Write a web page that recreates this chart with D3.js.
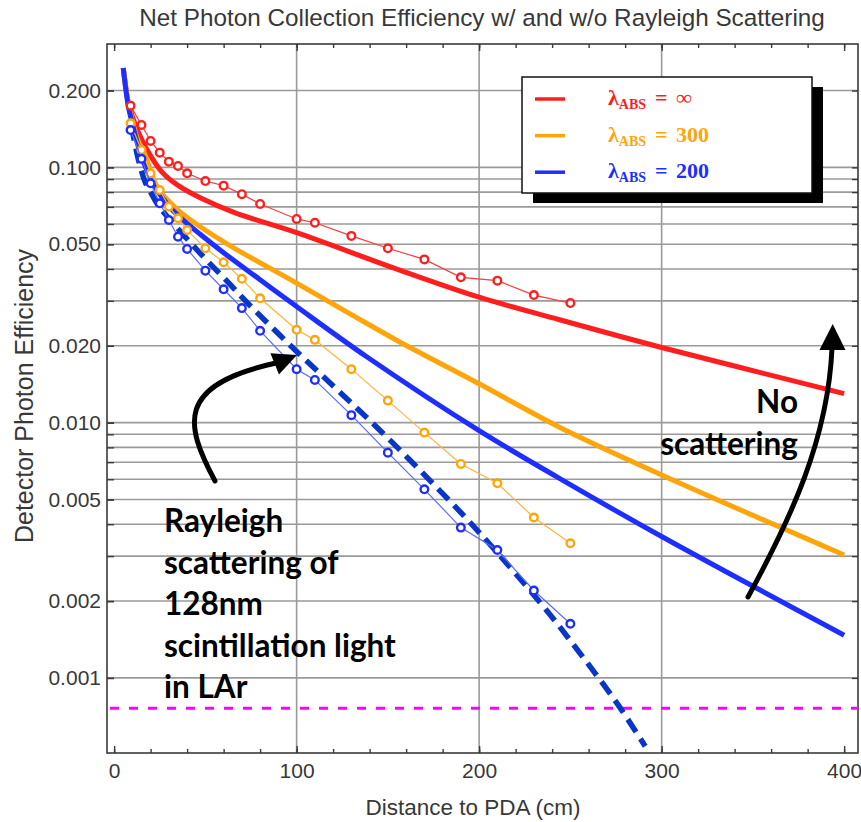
<!DOCTYPE html>
<html>
<head>
<meta charset="utf-8">
<script src="https://cdn.jsdelivr.net/npm/d3@7/dist/d3.min.js"></script>
<style>
  body { margin: 0; background: #fff; }
  svg { display: block; }
</style>
</head>
<body>
<svg id="chart" width="861" height="822"></svg>
<script>
// ---- Model curves (no scattering), one per absorption length ----
const distInf  = [5, 7.7, 10, 13.2, 18.7, 26, 35, 48, 66, 100, 156, 200, 244, 300, 400];
const effInf   = [0.245, 0.181, 0.158, 0.138, 0.115, 0.0963, 0.085, 0.0755, 0.0665, 0.0555, 0.0397, 0.031, 0.0253, 0.0197, 0.0130];

const dist300  = [5, 7.7, 10, 13, 16.9, 24, 35, 48, 66, 100, 130, 156, 200, 244, 300, 400];
const eff300   = [0.245, 0.178, 0.152, 0.128, 0.112, 0.0829, 0.068, 0.058, 0.0482, 0.0352, 0.0265, 0.0208, 0.0142, 0.0096, 0.00624, 0.00303];

const dist200  = [5, 7.7, 10, 13.2, 17, 22.4, 30, 38, 47, 60, 80, 100, 138, 200, 244, 300, 400];
const eff200   = [0.245, 0.175, 0.148, 0.121, 0.101, 0.084, 0.0705, 0.062, 0.0548, 0.0463, 0.0363, 0.0285, 0.0182, 0.0093, 0.00605, 0.00358, 0.00147];

// ---- Fit including Rayleigh scattering (dashed) ----
const distFit  = [9, 10, 13.2, 16.9, 20, 24.2, 31.5, 42.5, 50.7, 60, 74.4, 100, 125, 150, 176.7, 200, 233.3, 250, 275.3, 291];
const effFit   = [0.145, 0.138, 0.108, 0.088, 0.080, 0.071, 0.0614, 0.0501, 0.0433, 0.037, 0.0288, 0.0190, 0.0129, 0.0087, 0.00558, 0.00372, 0.00198, 0.0014, 0.0008, 0.00054];

// ---- Simulated points with scattering ----
const sampleDist = [9, 15, 20, 25, 30, 35, 40, 50, 60, 70, 80, 100, 110, 130, 150, 170, 190, 210, 230, 250];
const simInf = [0.1745, 0.1466, 0.1269, 0.1142, 0.1053, 0.1013, 0.0948, 0.0884, 0.0848, 0.0785, 0.0719, 0.0628, 0.0607, 0.0539, 0.0482, 0.0436, 0.0371, 0.0360, 0.0316, 0.0294];
const sim300 = [0.1489, 0.117, 0.0948, 0.0815, 0.0702, 0.0632, 0.0568, 0.0482, 0.0425, 0.0366, 0.0307, 0.0231, 0.0211, 0.0162, 0.0122, 0.00914, 0.00689, 0.00579, 0.00425, 0.00337];
const sim200 = [0.140, 0.108, 0.0866, 0.0723, 0.0622, 0.0535, 0.0479, 0.0394, 0.0333, 0.0281, 0.0229, 0.0162, 0.0147, 0.0107, 0.00763, 0.00548, 0.00388, 0.00317, 0.0022, 0.00163];

// Detection threshold level
const thresholdEff = 0.00076;

// Axis ticks
const xMajorTicks = [0, 100, 200, 300, 400];
const xMinorTicks = d3.range(0, 401, 20);
const xGridValues = [100, 200, 300];
const yLabelTicks = [0.2, 0.1, 0.05, 0.02, 0.01, 0.005, 0.002, 0.001];
const yTickLabels = ["0.200", "0.100", "0.050", "0.020", "0.010", "0.005", "0.002", "0.001"];
const yGridValues = [0.2, 0.1, 0.09, 0.08, 0.07, 0.06, 0.05, 0.04, 0.03, 0.02,
                     0.01, 0.009, 0.008, 0.007, 0.006, 0.005, 0.004, 0.003, 0.002, 0.001];

// Legend
const legendLabels = ["\u221E", "300", "200"];

const RED = "#ff1e1e", ORANGE = "#ffa50a", BLUE = "#1e2eff", DASHBLUE = "#0a36c8";
const seriesColors = [RED, ORANGE, BLUE];

// ---- Layout ----
const svg = d3.select("#chart");
const plot = { left: 107, right: 858, top: 44, bottom: 753 };

const x = d3.scaleLinear().domain([-3.9, 407.6]).range([plot.left, plot.right]);
const y = d3.scaleLog().domain([0.000508, 0.3043]).range([plot.bottom, plot.top]);

const gridColor = "#9a9a9a";
const axisColor = "#3a3a3a";
const textColor = "#383838";
const labelFont = "'Liberation Sans', Arial, sans-serif";

svg.append("defs").append("clipPath").attr("id", "plotClip")
  .append("rect")
  .attr("x", plot.left).attr("y", plot.top)
  .attr("width", plot.right - plot.left).attr("height", plot.bottom - plot.top);

// Grid
const grid = svg.append("g");
grid.selectAll("line.hg").data(yGridValues).join("line")
  .attr("x1", plot.left).attr("x2", plot.right)
  .attr("y1", d => y(d)).attr("y2", d => y(d))
  .attr("stroke", gridColor).attr("stroke-width", 1.6);
grid.selectAll("line.vg").data(xGridValues).join("line")
  .attr("y1", plot.top).attr("y2", plot.bottom)
  .attr("x1", d => x(d)).attr("x2", d => x(d))
  .attr("stroke", gridColor).attr("stroke-width", 1.6);

// Axes with inward ticks on all four sides
const axes = svg.append("g");
const bottomAxis = d3.axisBottom(x).tickValues(xMajorTicks).tickSize(-7).tickFormat(d => d).tickPadding(10);
const bottomMinor = d3.axisBottom(x).tickValues(xMinorTicks).tickSize(-4).tickFormat("");
const topAxis = d3.axisTop(x).tickValues(xMajorTicks).tickSize(-7).tickFormat("");
const topMinor = d3.axisTop(x).tickValues(xMinorTicks).tickSize(-4).tickFormat("");
const leftAxis = d3.axisLeft(y).tickValues(yLabelTicks).tickSize(-7)
  .tickFormat((d, i) => yTickLabels[i]).tickPadding(6);
const leftMinor = d3.axisLeft(y).tickValues(yGridValues).tickSize(-7).tickFormat("");
const rightAxis = d3.axisRight(y).tickValues(yGridValues).tickSize(-6).tickFormat("");

function styleAxis(g) {
  g.select(".domain").remove();
  g.selectAll(".tick line").attr("stroke", axisColor).attr("stroke-width", 1.4);
  g.selectAll(".tick text").attr("fill", textColor).style("font-family", labelFont).style("font-size", "21px");
}
axes.append("g").attr("transform", `translate(0,${plot.bottom})`).call(bottomAxis).call(styleAxis);
axes.append("g").attr("transform", `translate(0,${plot.bottom})`).call(bottomMinor).call(styleAxis);
axes.append("g").attr("transform", `translate(0,${plot.top})`).call(topAxis).call(styleAxis);
axes.append("g").attr("transform", `translate(0,${plot.top})`).call(topMinor).call(styleAxis);
axes.append("g").attr("transform", `translate(${plot.left},0)`).call(leftAxis).call(styleAxis);
axes.append("g").attr("transform", `translate(${plot.left},0)`).call(leftMinor).call(styleAxis);
axes.append("g").attr("transform", `translate(${plot.right},0)`).call(rightAxis).call(styleAxis);

axes.append("rect")
  .attr("x", plot.left).attr("y", plot.top)
  .attr("width", plot.right - plot.left).attr("height", plot.bottom - plot.top)
  .attr("fill", "none").attr("stroke", axisColor).attr("stroke-width", 1.6);

// Plotted content
const content = svg.append("g").attr("clip-path", "url(#plotClip)");

// Threshold line
content.append("line")
  .attr("x1", plot.left + 3).attr("x2", plot.right)
  .attr("y1", y(thresholdEff)).attr("y2", y(thresholdEff))
  .attr("stroke", "#ff00ff").attr("stroke-width", 3)
  .attr("stroke-dasharray", "9 10");

const line = d3.line().x(d => x(d[0])).y(d => y(d[1])).curve(d3.curveCatmullRom.alpha(0.5));
const zip = (a, b) => a.map((v, i) => [v, b[i]]);

// Model curves
[[distInf, effInf, RED], [dist300, eff300, ORANGE], [dist200, eff200, BLUE]].forEach(([dx, dy, c]) => {
  content.append("path").datum(zip(dx, dy))
    .attr("d", line).attr("fill", "none")
    .attr("stroke", c).attr("stroke-width", 5).attr("stroke-linejoin", "round");
});

// Scattering fit
content.append("path").datum(zip(distFit, effFit))
  .attr("d", line).attr("fill", "none")
  .attr("stroke", DASHBLUE).attr("stroke-width", 5.5)
  .attr("stroke-dasharray", "15 8");

// Simulated points
const thinColors = ["#ff3a3a", "#ffb338", "#5a6cff"];
[simInf, sim300, sim200].forEach((vals, k) => {
  const pts = zip(sampleDist, vals);
  content.append("path").datum(pts)
    .attr("d", d3.line().x(d => x(d[0])).y(d => y(d[1])))
    .attr("fill", "none").attr("stroke", thinColors[k]).attr("stroke-width", 1.2);
  content.selectAll(null).data(pts).join("circle")
    .attr("cx", d => x(d[0])).attr("cy", d => y(d[1])).attr("r", 3.8)
    .attr("fill", "#fff").attr("stroke", seriesColors[k]).attr("stroke-width", 2.4);
});

// Title and axis titles
svg.append("text")
  .attr("x", 482).attr("y", 26).attr("text-anchor", "middle")
  .style("font-family", labelFont).style("font-size", "24.3px").attr("fill", textColor)
  .text("Net Photon Collection Efficiency w/ and w/o Rayleigh Scattering");
svg.append("text")
  .attr("x", 473).attr("y", 815).attr("text-anchor", "middle")
  .style("font-family", labelFont).style("font-size", "22.5px").attr("fill", textColor)
  .text("Distance to PDA (cm)");
svg.append("text")
  .attr("transform", "translate(33,396) rotate(-90)").attr("text-anchor", "middle")
  .style("font-family", labelFont).style("font-size", "25px").attr("fill", textColor)
  .text("Detector Photon Efficiency");

// Legend with drop shadow
const lg = svg.append("g");
lg.append("rect").attr("x", 533).attr("y", 87).attr("width", 290).attr("height", 116).attr("fill", "#000");
lg.append("rect").attr("x", 522).attr("y", 77).attr("width", 290).attr("height", 116)
  .attr("fill", "#fff").attr("stroke", "#111").attr("stroke-width", 1.5);
const serif = "'Liberation Serif', 'Times New Roman', serif";
legendLabels.forEach((lab, i) => {
  const yy = 99 + i * 36.6;
  lg.append("line").attr("x1", 535).attr("x2", 565).attr("y1", yy).attr("y2", yy)
    .attr("stroke", seriesColors[i]).attr("stroke-width", 3.5);
  const t = lg.append("text").attr("x", 608).attr("y", yy + 6)
    .style("font-family", serif).style("font-weight", "bold")
    .style("font-size", "22px").attr("fill", seriesColors[i]);
  t.append("tspan").text("\u03BB");
  t.append("tspan").attr("dy", 4).style("font-size", "14px").text("ABS");
  t.append("tspan").attr("x", 655).attr("dy", -4).text("=");
  t.append("tspan").attr("x", 676).text(lab);
});

// Annotations
const ann = svg.append("g").style("font-family", "Lato, 'Open Sans', sans-serif").style("font-weight", "bold")
  .style("font-size", "31.5px").attr("fill", "#000");
["Rayleigh", "scattering of", "128nm", "scintillation light", "in LAr"].forEach((s, i) => {
  ann.append("text").attr("x", 164).attr("y", 532 + i * 41.6).text(s);
});
ann.append("text").attr("x", 798).attr("y", 413).attr("text-anchor", "end").text("No");
ann.append("text").attr("x", 798).attr("y", 455).attr("text-anchor", "end").text("scattering");

// Curved arrows
function arrow(pathD, tip, back, halfW) {
  svg.append("path").attr("d", pathD).attr("fill", "none")
    .attr("stroke", "#000").attr("stroke-width", 5).attr("stroke-linecap", "round");
  const dx = tip[0] - back[0], dy = tip[1] - back[1];
  const L = Math.hypot(dx, dy), px = -dy / L * halfW, py = dx / L * halfW;
  svg.append("path")
    .attr("d", `M${tip[0]},${tip[1]} L${back[0] + px},${back[1] + py} L${back[0] - px},${back[1] - py} Z`)
    .attr("fill", "#000");
}
arrow("M215,481 C185,425 175,385 276,363", [297, 355], [274.7, 363.9], 11.5);
arrow("M748,597 C790,520 828,440 832,348", [832.7, 324], [832.5, 350], 13);
</script>
</body>
</html>
